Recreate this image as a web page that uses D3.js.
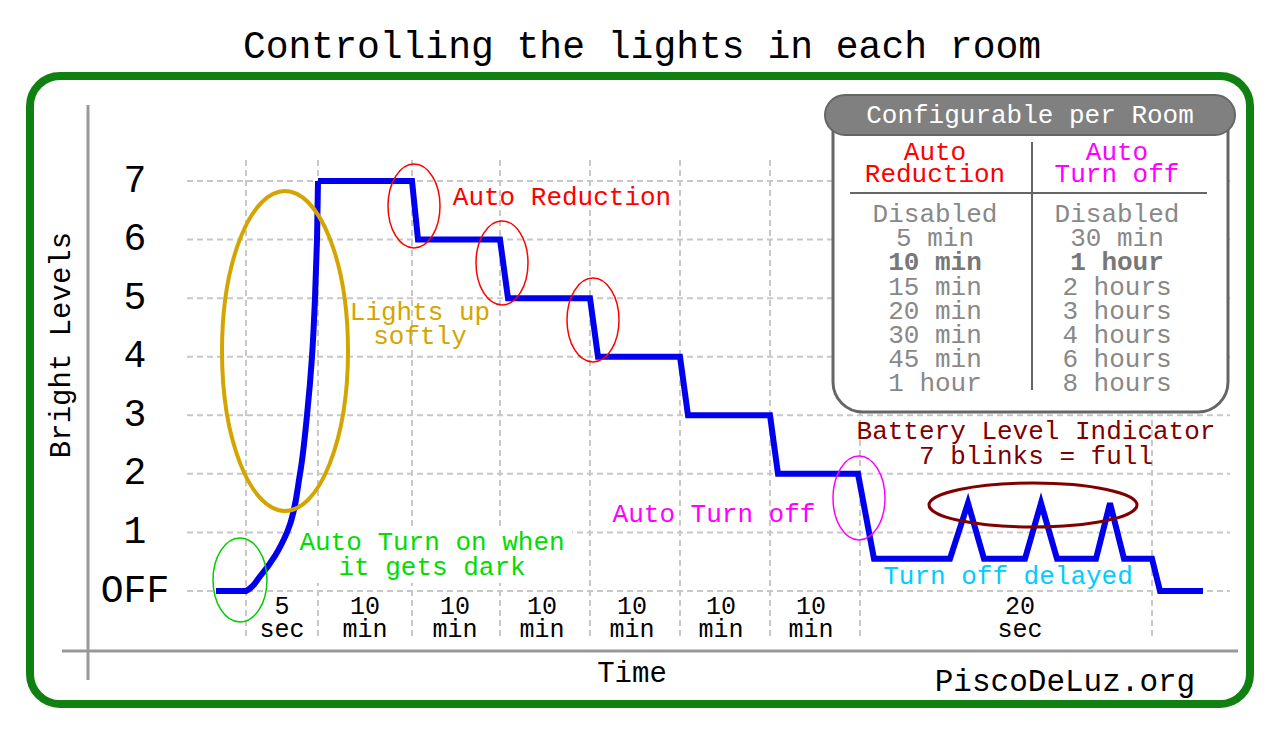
<!DOCTYPE html>
<html><head><meta charset="utf-8">
<script src="https://cdn.jsdelivr.net/npm/d3@7"></script>
<style>body{margin:0;background:#fff}text{font-family:"Liberation Mono","DejaVu Sans Mono",monospace}</style>
</head><body>
<script>
// levels and ticks
var levelLabels = ["OFF","1","2","3","4","5","6","7"];
// time positions (chart units) of vertical grid lines
var gridTimes = [59, 131, 225, 313, 403, 493, 583, 673, 965];
var periodLabels = [
	{t:95, a:"5", b:"sec"}, {t:178, a:"10", b:"min"}, {t:268, a:"10", b:"min"},
	{t:355, a:"10", b:"min"}, {t:445, a:"10", b:"min"}, {t:534, a:"10", b:"min"},
	{t:624, a:"10", b:"min"}, {t:833, a:"20", b:"sec"}
];
// brightness over time
var riseT = [29, 59, 73, 88, 100, 113, 120, 125, 128, 130, 131];
var riseL = [0, 0, 0.25, 0.6, 1, 2, 3, 4, 5, 6, 7];
var stepT = [225, 231, 313, 321, 403, 411, 493, 501, 583, 591, 671, 687, 763, 781, 797, 838, 854, 870, 909, 923, 937, 965, 973, 1016];
var stepL = [7, 6, 6, 5, 5, 4, 4, 3, 3, 2, 2, 0.55, 0.55, 1.5, 0.55, 0.55, 1.5, 0.55, 0.55, 1.5, 0.55, 0.55, 0, 0];
var minRates = ["Disabled","5 min","10 min","15 min","20 min","30 min","45 min","1 hour"];
var offTimes = ["Disabled","30 min","1 hour","2 hours","3 hours","4 hours","6 hours","8 hours"];

var W = 1280, H = 738;
var svg = d3.select("body").append("svg").attr("width", W).attr("height", H);
var x = d3.scaleLinear().domain([0, 1043]).range([187, 1230]);
var y = d3.scaleLinear().domain([0, 7]).range([591, 181]);

svg.append("text").attr("x", 642).attr("y", 47).attr("text-anchor","middle")
	.attr("dominant-baseline","central").attr("font-size", 38).text("Controlling the lights in each room");
svg.append("rect").attr("x",30).attr("y",76).attr("width",1220).attr("height",628).attr("rx",30)
	.attr("fill","none").attr("stroke","#108010").attr("stroke-width",8);

// grid
svg.selectAll(".hg").data(d3.range(0, 8)).enter().append("line")
	.attr("x1", x(0)).attr("x2", x(1043)).attr("y1", d => y(d)).attr("y2", d => y(d))
	.attr("stroke","#c8c8c8").attr("stroke-width",2).attr("stroke-dasharray","6,4");
svg.selectAll(".vg").data(gridTimes).enter().append("line")
	.attr("x1", d => x(d)).attr("x2", d => x(d)).attr("y1", 160).attr("y2", 640)
	.attr("stroke","#c8c8c8").attr("stroke-width",2).attr("stroke-dasharray","6,4");

// axes
svg.append("line").attr("x1",88).attr("x2",88).attr("y1",105).attr("y2",680).attr("stroke","#999").attr("stroke-width",3);
svg.append("line").attr("x1",62).attr("x2",1238).attr("y1",651).attr("y2",651).attr("stroke","#999").attr("stroke-width",3);
svg.append("text").attr("transform","translate(62,345) rotate(-90)").attr("text-anchor","middle")
	.attr("dominant-baseline","central").attr("font-size",29).text("Bright Levels");
svg.append("text").attr("x",632).attr("y",674).attr("text-anchor","middle")
	.attr("dominant-baseline","central").attr("font-size",29).text("Time");
svg.append("text").attr("x",1065).attr("y",682).attr("text-anchor","middle")
	.attr("dominant-baseline","central").attr("font-size",31).text("PiscoDeLuz.org");

svg.selectAll(".yl").data(levelLabels).enter().append("text")
	.attr("x",135).attr("y",(d,i) => y(i)).attr("text-anchor","middle")
	.attr("dominant-baseline","central").attr("font-size",38).text(d => d);
var pl = svg.selectAll(".pl").data(periodLabels).enter().append("g");
pl.append("text").attr("x", d => x(d.t)).attr("y",607).attr("text-anchor","middle")
	.attr("dominant-baseline","central").attr("font-size",25).text(d => d.a);
pl.append("text").attr("x", d => x(d.t)).attr("y",630).attr("text-anchor","middle")
	.attr("dominant-baseline","central").attr("font-size",25).text(d => d.b);

// green annotation label sits on white background
svg.append("rect").attr("x",292).attr("y",527).attr("width",280).attr("height",56).attr("fill","#fff");

// brightness line
var pts = riseT.map((t,i) => [t, riseL[i]]);
var stepPts = stepT.map((t,i) => [t, stepL[i]]);
var riseLine = d3.line().x(d => x(d[0])).y(d => y(d[1])).curve(d3.curveMonotoneY);
var stepLine = d3.line().x(d => x(d[0])).y(d => y(d[1]));
svg.append("path").attr("d", riseLine(pts)).attr("fill","none").attr("stroke","#0000ee").attr("stroke-width",6);
svg.append("path").attr("d", stepLine([[131,7]].concat(stepPts))).attr("fill","none")
	.attr("stroke","#0000ee").attr("stroke-width",6).attr("stroke-linejoin","miter");

// ellipses
var ells = [
	{cx:285, cy:351, rx:63, ry:160, c:"#d4a500", w:4},
	{cx:240, cy:580, rx:27, ry:42, c:"#00cc00", w:1.5},
	{cx:414, cy:206, rx:26, ry:42, c:"#ff0000", w:1.5},
	{cx:502, cy:263, rx:26, ry:42, c:"#ff0000", w:1.5},
	{cx:593, cy:320, rx:26, ry:42, c:"#ff0000", w:1.5},
	{cx:859, cy:498, rx:26, ry:42, c:"#ff00ff", w:1.5},
	{cx:1033, cy:505, rx:104, ry:22, c:"#800000", w:3}
];
svg.selectAll(".el").data(ells).enter().append("ellipse")
	.attr("cx", d => d.cx).attr("cy", d => d.cy).attr("rx", d => d.rx).attr("ry", d => d.ry)
	.attr("fill","none").attr("stroke", d => d.c).attr("stroke-width", d => d.w);

// annotation texts
var notes = [
	{x:562, y:198, t:"Auto Reduction", c:"#ff0000"},
	{x:420, y:313, t:"Lights up", c:"#d4a500"},
	{x:420, y:337, t:"softly", c:"#d4a500"},
	{x:432, y:543, t:"Auto Turn on when", c:"#00dd00"},
	{x:432, y:568, t:"it gets dark", c:"#00dd00"},
	{x:714, y:515, t:"Auto Turn off", c:"#ff00ff"},
	{x:1036, y:432, t:"Battery Level Indicator", c:"#800000"},
	{x:1036, y:457, t:"7 blinks = full", c:"#800000"},
	{x:1008, y:577, t:"Turn off delayed", c:"#00ccff"}
];
svg.selectAll(".nt").data(notes).enter().append("text")
	.attr("x", d => d.x).attr("y", d => d.y).attr("text-anchor","middle")
	.attr("dominant-baseline","central").attr("font-size",26).attr("fill", d => d.c).text(d => d.t);

// config box
svg.append("rect").attr("x",833).attr("y",100).attr("width",395).attr("height",312).attr("rx",30)
	.attr("fill","#fff").attr("stroke","#666").attr("stroke-width",3);
svg.append("rect").attr("x",825).attr("y",95).attr("width",410).attr("height",40).attr("rx",20)
	.attr("fill","#808080").attr("stroke","#666").attr("stroke-width",2);
svg.append("text").attr("x",1030).attr("y",116).attr("text-anchor","middle")
	.attr("dominant-baseline","central").attr("font-size",26).attr("fill","#fff").text("Configurable per Room");
svg.append("line").attr("x1",1032).attr("x2",1032).attr("y1",142).attr("y2",390).attr("stroke","#666").attr("stroke-width",2);
svg.append("line").attr("x1",850).attr("x2",1207).attr("y1",193).attr("y2",193).attr("stroke","#666").attr("stroke-width",2);
[["Auto",153,935,"#ff0000"],["Reduction",175,935,"#ff0000"],["Auto",153,1117,"#ff00ff"],["Turn off",175,1117,"#ff00ff"]]
	.forEach(function(h){
		svg.append("text").attr("x",h[2]).attr("y",h[1]).attr("text-anchor","middle")
			.attr("dominant-baseline","central").attr("font-size",26).attr("fill",h[3]).text(h[0]);
	});
[[minRates,935],[offTimes,1117]].forEach(function(col){
	svg.selectAll(null).data(col[0]).enter().append("text")
		.attr("x", col[1]).attr("y", (d,i) => 215 + i*24.2).attr("text-anchor","middle")
		.attr("dominant-baseline","central").attr("font-size",26)
		.attr("font-weight", (d,i) => i == 2 ? "bold" : "normal")
		.attr("fill", (d,i) => i == 2 ? "#777" : "#888").text(d => d);
});
</script>
</body></html>
